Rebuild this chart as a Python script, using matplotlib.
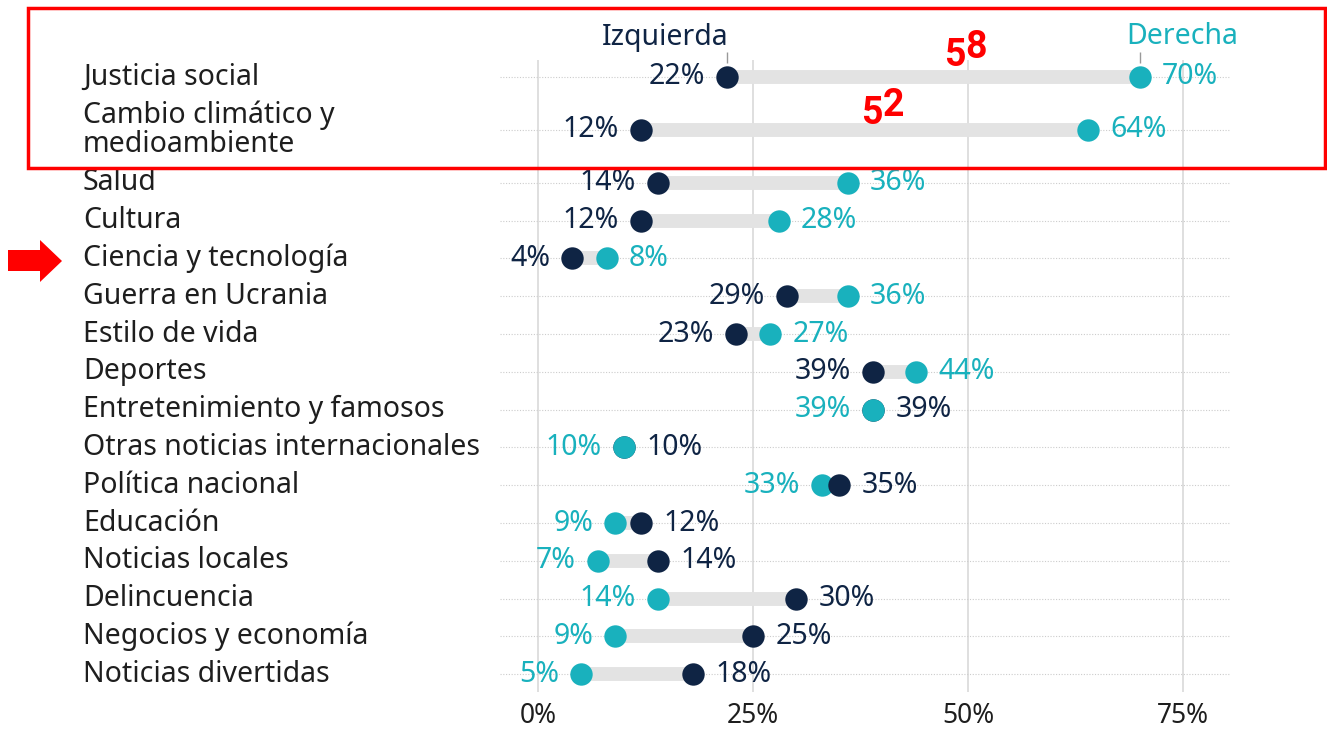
import matplotlib
matplotlib.use("Agg")
import matplotlib.pyplot as plt
import matplotlib.transforms as mtransforms
from matplotlib.patches import Rectangle, Polygon
import numpy as np

plt.rcParams['font.family'] = ['Noto Sans', 'DejaVu Sans']

# data
categories = ["Justicia social", "Cambio climático y\nmedioambiente", "Salud", "Cultura",
              "Ciencia y tecnología", "Guerra en Ucrania", "Estilo de vida", "Deportes",
              "Entretenimiento y famosos", "Otras noticias internacionales", "Política nacional",
              "Educación", "Noticias locales", "Delincuencia", "Negocios y economía",
              "Noticias divertidas"]
izquierda = [22, 12, 14, 12, 4, 29, 23, 39, 39, 10, 35, 12, 14, 30, 25, 18]
derecha = [70, 64, 36, 28, 8, 36, 27, 44, 39, 10, 33, 9, 7, 14, 9, 5]
xticks = [0, 25, 50, 75]
xtick_labels = ["0%", "25%", "50%", "75%"]
gaps = ["58", "52"]

NAVY = "#0f2444"
TEAL = "#19b1bd"
BAR = "#e3e3e3"
TXT = "#1e1e1e"
FS = 20.5

W, H = 1327, 730
fig = plt.figure(figsize=(W / 100, H / 100), dpi=100)

# pixel layout of the plotting area
ax_l, ax_r, ax_t, ax_b = 490, 1240, 60, 692
x0, px_x = 538, 8.6      # 0% position, px per percent
y0, px_row = 77, 37.8    # first row position, px per row
ax = fig.add_axes([ax_l / W, 1 - ax_b / H, (ax_r - ax_l) / W, (ax_b - ax_t) / H])
ax.set_xlim((ax_l - x0) / px_x, (ax_r - x0) / px_x)
ax.set_ylim((ax_b - y0) / px_row, (ax_t - y0) / px_row)

izq = np.array(izquierda)
der = np.array(derecha)
h = np.array([1.8 if "\n" in c else 1.0 for c in categories])
y = np.concatenate([[0], np.cumsum((h[:-1] + h[1:]) / 2)])

# grid
ax.vlines(xticks, *ax.get_ylim(), color="#dcdcdc", lw=1.3, zorder=0)
ax.hlines(y, (500 - x0) / px_x, (1230 - x0) / px_x, color="#cccccc",
          lw=0.8, linestyles=(0, (1, 1.5)), zorder=1)

# bars + dots
ax.hlines(y, np.minimum(izq, der), np.maximum(izq, der), color=BAR, lw=10, zorder=2)
front = izq > der
ax.scatter(izq[~front], y[~front], s=260, color=NAVY, zorder=3, lw=0)
ax.scatter(der, y, s=260, color=TEAL, zorder=4, lw=0)
ax.scatter(izq[front], y[front], s=260, color=NAVY, zorder=5, lw=0)

# value labels
for yi, a, b in zip(y, izq, der):
    if a < b:
        left, right = (a, NAVY), (b, TEAL)
    else:
        left, right = (b, TEAL), (a, NAVY)
    ax.annotate(f"{left[0]}%", (left[0], yi), xytext=(-16, 0), textcoords="offset points",
                ha="right", va="center", fontsize=FS, color=left[1])
    ax.annotate(f"{right[0]}%", (right[0], yi), xytext=(16, 0), textcoords="offset points",
                ha="left", va="center", fontsize=FS, color=right[1])

# category labels
trans = mtransforms.blended_transform_factory(fig.transFigure, ax.transData)
for yi, c in zip(y, categories):
    ax.text(83 / W, yi, c, transform=trans, ha="left", va="center",
            fontsize=FS, color=TXT, linespacing=1.0)

# headers
yh = (37 - y0) / px_row
ax.text(izq[0] + 0.2, yh, "Izquierda", ha="right", va="center", fontsize=FS,
        color=NAVY, clip_on=False)
ax.text(der[0] - 1.6, yh, "Derecha", ha="left", va="center", fontsize=FS,
        color=TEAL, clip_on=False)
ax.vlines([izq[0], der[0]], (52 - y0) / px_row, (63 - y0) / px_row, color="#999999",
          lw=1, clip_on=False)

ax.set_xticks(xticks, xtick_labels)
ax.tick_params(axis="x", length=0, pad=7, labelsize=19, labelcolor=TXT)
ax.set_yticks([])
for s in ax.spines.values():
    s.set_visible(False)

# red annotations
fig.patches.append(Rectangle((28 / W, 1 - 168 / H), (1325 - 28) / W, (168 - 8) / H,
                             transform=fig.transFigure, fill=False, ec="#ff0000", lw=2.5))
arrow = [(8, 250), (40, 250), (40, 240), (62, 261), (40, 282), (40, 271), (8, 271)]
fig.patches.append(Polygon([(px / W, 1 - py / H) for px, py in arrow], closed=True,
                           transform=fig.transFigure, fc="#ff0000", ec="none"))
red_font = dict(ha="center", va="center", fontsize=27, fontweight="bold", color="#ff0000",
                family=["Roboto", "DejaVu Sans"])
# hand-written look: first digit a bit lower than the second
for (cx, cy), g in zip([(966, 51), (883, 110)], gaps):
    fig.text((cx - 11) / W, 1 - (cy + 4) / H, g[0], **red_font)
    fig.text((cx + 10) / W, 1 - (cy - 4) / H, g[1], **red_font)

fig.savefig("out.png", dpi=100)
